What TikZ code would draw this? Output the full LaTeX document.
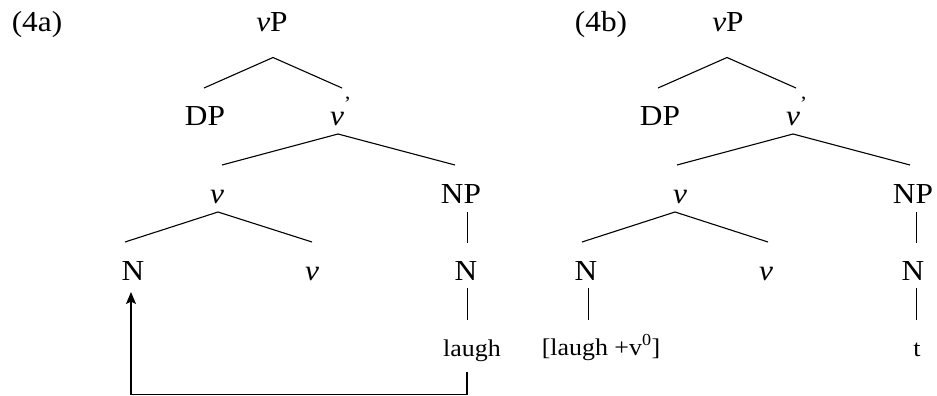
\documentclass[tikz,border=0pt]{standalone}
\usepackage{fontspec}
\setmainfont{Liberation Serif}[FakeStretch=1.08]
\usetikzlibrary{arrows.meta}

\begin{document}
\begin{tikzpicture}[x=1pt, y=-1pt,
  cat/.style={anchor=base, inner sep=0pt, font=\fontsize{29}{34}\selectfont},
  word/.style={anchor=base, inner sep=0pt, font=\fontsize{24}{28}\selectfont},
  branch/.style={line width=1.1pt},
  unary/.style={line width=0.8pt},
  move/.style={line width=1.1pt, -{Stealth[length=12pt,width=10pt,inset=2.5pt]}}]
\useasboundingbox (0,0) rectangle (937,396);

% ---------- tree (4a) ----------
\node[cat] (laba)  at (37,31.5)   {(4a)};
\node[cat] (vPa)   at (272,31.5)  {\textit{v}P};
\node[cat] (DPa)   at (205,125.5) {DP};
\node[cat] (vbara) at (337,125.5) {\textit{v}\rlap{\raisebox{6pt}{\textsuperscript{’}}}};
\node[cat] (va)    at (217,203)   {\textit{v}};
\node[cat] (NPa)   at (461,203)   {NP};
\node[cat] (Na)    at (133,280)   {N};
\node[cat] (vsa)   at (312,280)   {\textit{v}};
\node[cat] (Nra)   at (466,280)   {N};
\node[word] (laugha) at (472,356.5) {laugh};

\draw[branch] ([xshift=1pt,yshift=-26pt]vPa.base) -- ([xshift=-1pt,yshift=37.5pt]DPa.base);
\draw[branch] ([xshift=1pt,yshift=-26pt]vPa.base) -- ([xshift=5pt,yshift=37.5pt]vbara.base);
\draw[branch] ([xshift=1pt,yshift=-8.5pt]vbara.base) -- ([xshift=5pt,yshift=38pt]va.base);
\draw[branch] ([xshift=1pt,yshift=-8.5pt]vbara.base) -- ([xshift=-6pt,yshift=38pt]NPa.base);
\draw[branch] ([xshift=1pt,yshift=-9pt]va.base) -- ([xshift=-8pt,yshift=38pt]Na.base);
\draw[branch] ([xshift=1pt,yshift=-9pt]va.base) -- ([xshift=0pt,yshift=38pt]vsa.base);
\draw[unary] ([xshift=6pt,yshift=-9pt]NPa.base) -- ([xshift=1pt,yshift=37pt]Nra.base);
\draw[unary] ([xshift=1pt,yshift=-8pt]Nra.base) -- ([xshift=-5pt,yshift=36.5pt]laugha.base);

% head movement of the root into the lower N
\draw[move] ([xshift=-5pt,yshift=-15.5pt]laugha.base) -- ++(0,22.7)
  -| ([xshift=-2pt,yshift=-12pt]Na.base);

% ---------- tree (4b) ----------
\node[cat] (labb)  at (601,31.5)  {(4b)};
\node[cat] (vPb)   at (728,31.5)  {\textit{v}P};
\node[cat] (DPb)   at (660,125.5) {DP};
\node[cat] (vbarb) at (793,125.5) {\textit{v}\rlap{\raisebox{6pt}{\textsuperscript{’}}}};
\node[cat] (vb)    at (680,203)   {\textit{v}};
\node[cat] (NPb)   at (913,203)   {NP};
\node[cat] (Nb)    at (586,280)   {N};
\node[cat] (vsb)   at (766,280)   {\textit{v}};
\node[cat] (Nrb)   at (913,280)   {N};
\node[word] (laughb) at (601,355) {[laugh +v\textsuperscript{0}]};
\node[word] (tb)   at (917,356)   {t};

\draw[branch] ([xshift=-1pt,yshift=-26pt]vPb.base) -- ([xshift=-2pt,yshift=37.5pt]DPb.base);
\draw[branch] ([xshift=-1pt,yshift=-26pt]vPb.base) -- ([xshift=3pt,yshift=37.5pt]vbarb.base);
\draw[branch] ([yshift=-8.5pt]vbarb.base) -- ([xshift=-3pt,yshift=38pt]vb.base);
\draw[branch] ([yshift=-8.5pt]vbarb.base) -- ([xshift=-3pt,yshift=38pt]NPb.base);
\draw[branch] ([xshift=-5pt,yshift=-9pt]vb.base) -- ([xshift=-4pt,yshift=38pt]Nb.base);
\draw[branch] ([xshift=-5pt,yshift=-9pt]vb.base) -- ([xshift=2pt,yshift=38pt]vsb.base);
\draw[unary] ([xshift=3pt,yshift=-9pt]NPb.base) -- ([xshift=3pt,yshift=37pt]Nrb.base);
\draw[unary] ([xshift=2pt,yshift=-8pt]Nb.base) -- ([xshift=-13pt,yshift=35pt]laughb.base);
\draw[unary] ([xshift=3pt,yshift=-8pt]Nrb.base) -- ([xshift=-1pt,yshift=36pt]tb.base);
\end{tikzpicture}
\end{document}
